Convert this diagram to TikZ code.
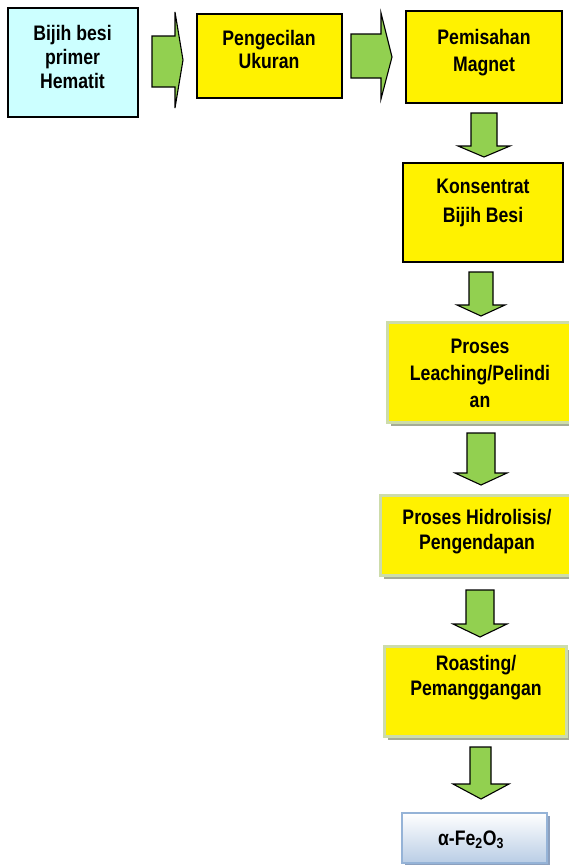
\documentclass[tikz,border=0pt]{standalone}
\usepackage{fontspec}
\setmainfont{Liberation Sans}[FakeStretch=0.84]
\usetikzlibrary{shadows}
\definecolor{agreen}{RGB}{146,208,80}
\definecolor{lcyan}{RGB}{204,255,255}
\definecolor{pborder}{RGB}{205,220,170}
\definecolor{pshadow}{RGB}{166,172,150}
\definecolor{bborder}{RGB}{149,179,215}
\definecolor{bshadow}{RGB}{140,160,190}
\definecolor{bbottom}{RGB}{185,205,229}
\tikzset{
  boxA/.style={draw=black, line width=1.8pt, fill=yellow, inner sep=0pt},
  boxB/.style={draw=pborder, line width=3pt, fill=yellow, inner sep=0pt,
    general shadow={shadow xshift=4pt, shadow yshift=-4pt, fill=pshadow}},
  boxC/.style={draw=bborder, line width=1.5pt, inner sep=0pt,
    top color=white, bottom color=bbottom,
    general shadow={shadow xshift=3pt, shadow yshift=-3pt, fill=bshadow}},
  blk/.style={draw=black, line width=1.1pt, fill=agreen, line join=miter},
  lbl/.style={font=\fontsize{21}{#1}\selectfont\bfseries, align=center, inner sep=0pt, anchor=north},
  lbl/.default=24
}
\begin{document}
\begin{tikzpicture}[x=1pt,y=-1pt]
\useasboundingbox (0,0) rectangle (569,865);
% boxes
\node[boxA, fill=lcyan, minimum width=130, minimum height=109] (b1) at (73,62.5) {};
\node[boxA, minimum width=145, minimum height=84] (b2) at (269.5,56) {};
\node[boxA, minimum width=156, minimum height=92] (b3) at (484,57) {};
\node[boxA, minimum width=160, minimum height=99] (b4) at (483,212.5) {};
\node[boxB, minimum width=188, minimum height=100] (b5) at (481,372) {};
\node[boxB, minimum width=195, minimum height=80] (b6) at (477.5,535) {};
\node[boxB, minimum width=182, minimum height=90] (b7) at (475,691) {};
\node[boxC, minimum width=145, minimum height=50] (b8) at (474.5,838) {};
% labels
\node[lbl=24] (t1) at (72.5,25) {Bijih besi\\primer\\Hematit};
\node[lbl=23] (t2) at (269,30) {Pengecilan\\Ukuran};
\node[lbl=27] (t3) at (484,29) {Pemisahan\\Magnet};
\node[lbl=29] (t4) at (483,179) {Konsentrat\\Bijih Besi};
\node[lbl=27] (t5) at (480,339) {Proses\\Leaching/Pelindi\\an};
\node[lbl=25] (t6) at (477,509) {Proses Hidrolisis/\\Pengendapan};
\node[lbl=25] (t7) at (476,655) {Roasting/\\Pemanggangan};
\node[lbl] (t8) at (471,831) {α-Fe\textsubscript{2}O\textsubscript{3}};
% block arrows
\draw[blk] (152,36) -- (175,36) -- (175,12) -- (183,60) -- (175,108) -- (175,87) -- (152,87) -- cycle;
\draw[blk] (351,34) -- (381,34) -- (381,13) -- (392,57) -- (381,99) -- (381,78) -- (351,78) -- cycle;
\draw[blk] (471,113) -- (497,113) -- (497,146) -- (510,146) -- (484,157) -- (458,146) -- (471,146) -- cycle;
\draw[blk] (469,272) -- (493,272) -- (493,305) -- (505,305) -- (481,316) -- (457,305) -- (469,305) -- cycle;
\draw[blk] (467,433) -- (495,433) -- (495,473) -- (507,473) -- (481,485) -- (455,473) -- (467,473) -- cycle;
\draw[blk] (466,590) -- (494,590) -- (494,624) -- (507,624) -- (480,637) -- (453,624) -- (466,624) -- cycle;
\draw[blk] (470,747) -- (491,747) -- (491,784) -- (509,784) -- (481,799) -- (453,784) -- (470,784) -- cycle;
\end{tikzpicture}
\end{document}
